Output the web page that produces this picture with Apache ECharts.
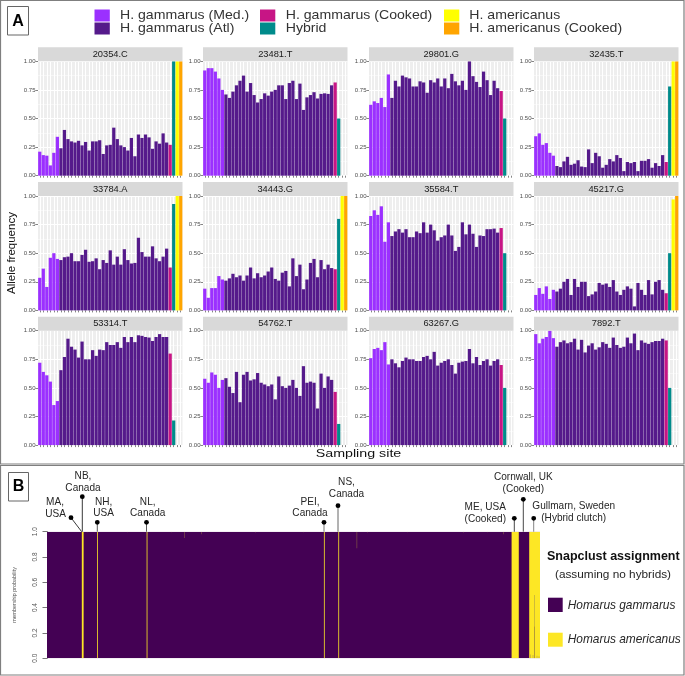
<!DOCTYPE html>
<html>
<head>
<meta charset="utf-8">
<style>html,body{margin:0;padding:0;background:#fff}#c{width:685px;height:676px}</style>
<script src="https://cdn.jsdelivr.net/npm/echarts@6/dist/echarts.min.js"></script>
</head>
<body>
<div id="c"></div>
<script>
// ---------- Panel A data ----------
const groupNames = ['H. gammarus (Med.)','H. gammarus (Atl)','H. gammarus (Cooked)','Hybrid','H. americanus','H. americanus (Cooked)'];
const groupColors = ['#9B30FF','#551A8B','#C71585','#008B8B','#FFFF00','#FFA500'];
const groupCounts = [6,31,1,1,1,1];
const markerNames = ['20354.C','23481.T','29801.G','32435.T','33784.A','34443.G','35584.T','45217.G','53314.T','54762.T','63267.G','7892.T'];

const m20354 = [.21,.18,.175,.09,.20,.34,.24,.40,.32,.30,.29,.305,.265,.295,.22,.30,.30,.31,.19,.265,.27,.42,.32,.265,.25,.22,.33,.17,.36,.33,.36,.335,.235,.30,.28,.37,.29,.27,1,1,1];
const m23481 = [.92,.94,.94,.91,.85,.75,.71,.68,.735,.79,.83,.875,.735,.81,.705,.64,.67,.72,.70,.735,.75,.79,.79,.67,.81,.83,.67,.805,.575,.685,.705,.73,.675,.715,.72,.715,.79,.815,.5,0,0];
const m29801 = [.62,.65,.635,.68,.60,.885,.68,.83,.78,.875,.86,.85,.78,.78,.825,.815,.725,.835,.815,.85,.78,.85,.765,.89,.825,.79,.83,.75,1,.87,.82,.775,.91,.835,.705,.83,.765,.74,.5,0,0];
const m32435 = [.345,.37,.27,.285,.20,.175,.085,.075,.125,.165,.095,.105,.135,.08,.075,.23,.11,.20,.17,.07,.095,.145,.125,.18,.155,.04,.12,.11,.12,.04,.13,.13,.145,.07,.11,.085,.18,.12,.78,1,1];
const m33784 = [.285,.365,.205,.46,.50,.45,.44,.465,.47,.50,.43,.43,.485,.53,.425,.43,.455,.36,.44,.415,.525,.40,.47,.40,.535,.44,.41,.415,.635,.51,.47,.47,.56,.455,.43,.47,.54,.375,.93,1,1];
const m34443 = [.19,.11,.195,.195,.30,.27,.26,.28,.32,.29,.305,.26,.305,.375,.28,.325,.29,.305,.34,.375,.275,.26,.33,.345,.21,.455,.30,.40,.185,.27,.415,.45,.29,.44,.36,.40,.37,.36,.80,1,1];
const m35584 = [.825,.875,.835,.91,.60,.77,.65,.69,.71,.68,.71,.64,.64,.69,.675,.77,.68,.75,.70,.61,.64,.655,.75,.655,.52,.555,.77,.665,.75,.67,.555,.655,.65,.71,.71,.715,.68,.72,.5,0,0];
const m45217 = [.135,.195,.145,.21,.10,.18,.165,.19,.25,.275,.135,.275,.205,.25,.25,.125,.14,.165,.24,.225,.235,.205,.265,.165,.135,.18,.21,.19,.035,.24,.18,.135,.265,.14,.25,.265,.18,.15,.5,.97,1];
const m53314 = [.72,.64,.61,.555,.35,.385,.655,.77,.93,.86,.835,.765,.905,.75,.75,.83,.78,.835,.83,.90,.875,.875,.90,.85,.945,.90,.945,.90,.96,.955,.945,.94,.91,.945,.97,.945,.945,.80,.215,0,0];
const m54762 = [.58,.545,.635,.615,.50,.57,.585,.51,.455,.64,.375,.615,.64,.565,.575,.63,.545,.53,.515,.53,.40,.60,.515,.50,.52,.57,.50,.43,.69,.545,.555,.545,.32,.625,.50,.60,.57,.465,.185,0,0];
const m63267 = [.76,.84,.85,.83,.90,.705,.75,.715,.68,.735,.765,.75,.75,.735,.735,.77,.78,.75,.815,.695,.72,.735,.75,.70,.625,.72,.73,.735,.84,.715,.77,.70,.735,.75,.695,.735,.75,.70,.5,0,0];
const m7892  = [.97,.89,.93,.945,1,.935,.86,.90,.915,.89,.90,.93,.835,.92,.81,.87,.89,.835,.855,.90,.885,.85,.94,.875,.85,.86,.94,.89,.975,.83,.915,.895,.885,.90,.91,.91,.93,.915,.5,0,0];
const markerValues = [m20354,m23481,m29801,m32435,m33784,m34443,m35584,m45217,m53314,m54762,m63267,m7892];

// ---------- Panel B data: [first individual, last individual, lower, upper] ----------
const individualCount = 1232;
const gammarusSegments = [[0,1232,0,1]];
const americanusSegments = [[87,91.5,0,1],[125,127,0,1],[249,251,0,1],[692,694,0,1],[728,730,0,1],[1161,1179,0,1],[1205,1232,0,1]];
const mixedSegments = [[343,344,.95,1],[385,386,.98,1],[774,775,.87,1],[1141,1142,.98,1],[100,101,.995,1],[200,201,.995,1],[310,311,.995,1],[520,522,.995,1],[640,641,.995,1],[800,802,.995,1],[900,901,.995,1],[1040,1042,.995,1],[1100,1101,.995,1]];
const residualSegments = [[1218,1219,.25,.5],[1208,1209,0,.03],[1214,1215,0,.025],[1224,1225,0,.02],[1229,1230,0,.015]];
const darkResidualSegments = [[1218,1219,0,.25]];

const siteLabels = Array.from({length:41},(_,i)=>'S'+(i+1));
const siteGroup = [];
groupCounts.forEach((n,g)=>{for(let i=0;i<n;i++)siteGroup.push(g);});

// ---------- Layout ----------
const colX = [38,203,369,534], panelW = 144.5, rowY = [61.3,196,330.7], panelH = 114.4;
const FONT = '"Liberation Sans", Arial, sans-serif';
const grids=[],xAxes=[],yAxes=[],series=[],gfx=[];

function txt(x,y,t,size,o){o=o||{};
  gfx.push({type:'text',x:x,y:y,scaleX:o.sx||1,rotation:o.rot||0,silent:true,z:o.z||20,
    style:{text:t,x:0,y:0,font:(o.style?o.style+' ':'')+size+'px '+FONT,fill:o.fill||'#262626',
      textAlign:o.align||'center',textVerticalAlign:'middle'}});
}
function box(x,y,w,h,fill,stroke,lw){
  gfx.push({type:'rect',silent:true,z:fill?10:15,shape:{x:x,y:y,width:w,height:h},style:{fill:fill||'none',stroke:stroke||null,lineWidth:lw||0}});
}
function seg(x1,y1,x2,y2,color,lw){
  gfx.push({type:'line',silent:true,z:18,shape:{x1:x1,y1:y1,x2:x2,y2:y2},style:{stroke:color,lineWidth:lw||1}});
}
function dot(x,y){gfx.push({type:'circle',silent:true,z:19,shape:{cx:x,cy:y,r:2.4},style:{fill:'#000'}});}

markerNames.forEach((name,i)=>{
  const c=i%4,r=Math.floor(i/4);
  grids.push({left:colX[c],top:rowY[r],width:panelW,height:panelH,show:true,backgroundColor:'#EEEEEE',borderWidth:0,containLabel:false});
  xAxes.push({type:'category',gridIndex:i,data:siteLabels,boundaryGap:true,
    axisLine:{show:false},axisLabel:{show:false},
    axisTick:{show:true,alignWithLabel:true,interval:0,length:2,lineStyle:{color:'#333',width:.6}},
    splitLine:{show:true,alignWithLabel:true,interval:0,lineStyle:{color:'#fff',width:1}}});
  yAxes.push({type:'value',gridIndex:i,min:0,max:1,interval:.25,
    axisLine:{show:false},axisTick:{show:true,length:2.5,lineStyle:{color:'#333',width:.6}},
    axisLabel:{fontSize:6,color:'#4D4D4D',margin:2.5,fontFamily:FONT,formatter:v=>v.toFixed(2)},
    splitLine:{show:true,lineStyle:{color:'#fff',width:1}},
    minorTick:{show:false,splitNumber:2},minorSplitLine:{show:true,lineStyle:{color:'#fff',width:.5}}});
  series.push({type:'bar',name:name,xAxisIndex:i,yAxisIndex:i,barWidth:'92%',silent:true,animation:false,
    data:markerValues[i].map((v,k)=>({value:v,itemStyle:{color:groupColors[siteGroup[k]]}}))});
  box(colX[c],rowY[r]-14,panelW,14,'#D9D9D9');
  txt(colX[c]+panelW/2,rowY[r]-7,name,9.3,{fill:'#1A1A1A'});
});

// Panel B
const bi=markerNames.length;
grids.push({left:47,top:531.7,width:493,height:126.5,show:false});
xAxes.push({type:'value',gridIndex:bi,min:0,max:individualCount,show:false,splitLine:{show:false}});
yAxes.push({type:'value',gridIndex:bi,min:0,max:1,interval:.2,offset:4,
  axisLine:{show:true,lineStyle:{color:'#555',width:.8}},
  axisTick:{show:true,length:4.5,lineStyle:{color:'#555',width:.8}},
  axisLabel:{fontSize:6.5,color:'#555',margin:4,rotate:90,fontFamily:FONT,formatter:v=>v.toFixed(1)},
  splitLine:{show:false}});
function rectSeries(name,data,color){
  return {type:'custom',name:name,xAxisIndex:bi,yAxisIndex:bi,silent:true,animation:false,clip:true,
    encode:{x:[0,1],y:[2,3]},data:data,
    renderItem:(p,api)=>{
      const a=api.coord([api.value(0),api.value(3)]),b=api.coord([api.value(1),api.value(2)]);
      return {type:'rect',shape:{x:a[0],y:a[1],width:b[0]-a[0],height:b[1]-a[1]},style:{fill:color}};
    }};
}
series.push(rectSeries('Homarus gammarus',gammarusSegments,'#440154'));
series.push(rectSeries('Homarus americanus',americanusSegments,'#FDE725'));
series.push(rectSeries('Mixed',mixedSegments,'#A88C3C'));
series.push(rectSeries('Residual',residualSegments,'#8A7A55'));
series.push(rectSeries('Residual dark',darkResidualSegments,'#4A2A50'));

// Frames
box(0.5,0.5,683.5,463.5,null,'#7F7F7F',1.2);
box(0.5,465.5,683.5,209.5,null,'#7F7F7F',1.2);
box(7.5,6.5,21,28.5,'#fff','#666',1);
txt(18,21.5,'A',16,{style:'bold',fill:'#000'});
box(8.5,472.5,20,28.5,'#fff','#666',1);
txt(18.5,487,'B',16,{style:'bold',fill:'#000'});

// Legend A
[[94.5,9.5,0],[94.5,22.5,1],[260,9.5,2],[260,22.5,3],[444,9.5,4],[444,22.5,5]].forEach(l=>{
  box(l[0],l[1],15.3,12,groupColors[l[2]]);
});
[[120,15.7,0],[120,28.7,1],[285.7,15.7,2],[285.7,28.7,3],[469.3,15.7,4],[469.3,28.7,5]].forEach(l=>{
  txt(l[0],l[1],groupNames[l[2]],12.6,{align:'left',sx:1.12,fill:'#333'});
});
txt(12,253,'Allele frequency',11.5,{rot:Math.PI/2,fill:'#111'});
txt(358.5,453.3,'Sampling site',11.6,{sx:1.23,fill:'#111'});

// Panel B annotations
seg(71,517.7,81.7,531.7,'#222',.9); dot(71,517.7);
seg(82.3,496.7,82.3,531.7,'#222',.9); dot(82.3,496.7);
seg(97.3,522.3,97.3,531.7,'#444',.9); dot(97.3,522.3);
seg(146.5,522.3,146.5,531.7,'#444',.9); dot(146.5,522.3);
seg(324,522.3,324,531.7,'#666',.9); dot(324,522.3);
seg(338,505.7,338,531.7,'#555',.9); dot(338,505.7);
seg(514.3,518.3,514.3,531.7,'#333',.9); dot(514.3,518.3);
seg(523.3,499.3,523.3,531.7,'#333',.9); dot(523.3,499.3);
seg(533.7,518.3,533.7,531.7,'#777',.9); dot(533.7,518.3);

const NOTE=10.6, NS={sx:.95};
txt(55,501.7,'MA,',NOTE,NS);txt(55.5,514.3,'USA',NOTE,NS);
txt(83,475.7,'NB,',NOTE,NS);txt(83,487.7,'Canada',NOTE,NS);
txt(103.7,501.7,'NH,',NOTE,NS);txt(103.7,513.3,'USA',NOTE,NS);
txt(147.7,501.7,'NL,',NOTE,NS);txt(147.7,513.3,'Canada',NOTE,NS);
txt(310,501.7,'PEI,',NOTE,NS);txt(310,513.3,'Canada',NOTE,NS);
txt(346.5,481.7,'NS,',NOTE,NS);txt(346.5,494,'Canada',NOTE,NS);
txt(485.3,506.7,'ME, USA',NOTE,NS);txt(485.3,518.7,'(Cooked)',NOTE,NS);
txt(523.3,476.7,'Cornwall, UK',NOTE,NS);txt(523.3,489,'(Cooked)',NOTE,NS);
txt(573.7,505.7,'Gullmarn, Sweden',NOTE,NS);txt(573.7,518,'(Hybrid clutch)',NOTE,NS);

txt(613.3,556.7,'Snapclust assignment',12.5,{style:'bold',fill:'#111'});
txt(613,574.3,'(assuming no hybrids)',11.8);
box(548,597.7,14.7,14.3,'#440154');
box(548,632.7,14.7,14,'#FDE725');
txt(567.7,606,'Homarus gammarus',11.9,{style:'italic',align:'left'});
txt(567.7,639.3,'Homarus americanus',11.9,{style:'italic',align:'left'});
txt(15,595,'membership probability',5.4,{rot:Math.PI/2,fill:'#555'});

const chart=echarts.init(document.getElementById('c'),null,{width:685,height:676});
chart.setOption({backgroundColor:'#fff',animation:false,textStyle:{fontFamily:FONT},
  grid:grids,xAxis:xAxes,yAxis:yAxes,series:series,graphic:{elements:gfx}});
</script>
</body>
</html>
